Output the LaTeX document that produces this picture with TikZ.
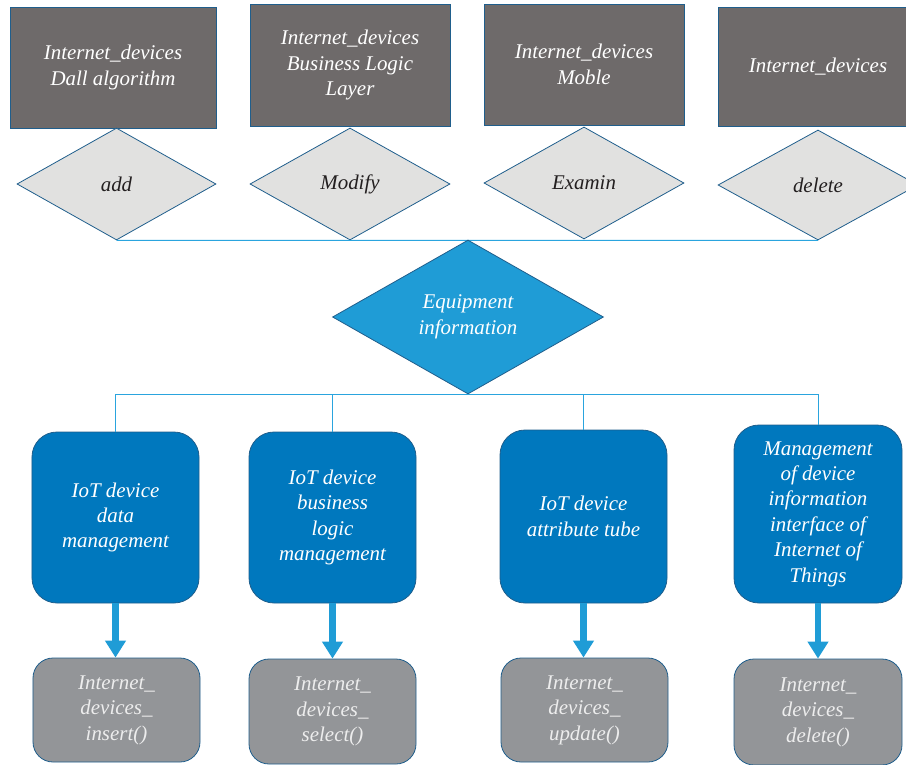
\documentclass[tikz,border=0pt]{standalone}
\usepackage{fontspec}
\setmainfont{Liberation Serif}
\usetikzlibrary{shapes.geometric,arrows.meta}
\definecolor{slate}{HTML}{6E6A6A}
\definecolor{edgeblue}{HTML}{1F5E8C}
\definecolor{paleg}{HTML}{E1E1E0}
\definecolor{linkblue}{HTML}{2AA4DE}
\definecolor{hubblue}{HTML}{1F9CD6}
\definecolor{boxblue}{HTML}{0078BE}
\definecolor{midgray}{HTML}{939598}
\definecolor{inkdark}{HTML}{231F20}
\begin{document}
\begin{tikzpicture}[x=1bp,y=-1bp,
  every node/.style={font=\itshape\fontsize{21}{25.5}\selectfont, align=center, inner sep=0pt},
  layerbox/.style={rectangle, draw=edgeblue, fill=slate, line width=0.8bp, text=white},
  opdiamond/.style={diamond, draw=edgeblue, fill=paleg, line width=0.8bp, text=inkdark},
  hubdiamond/.style={diamond, draw=edgeblue, fill=hubblue, line width=0.8bp, text=white},
  modbox/.style={rectangle, rounded corners=25bp, draw=edgeblue, fill=boxblue, line width=0.8bp, text=white, minimum width=167bp},
  funcbox/.style={rectangle, rounded corners=20bp, draw=edgeblue, fill=midgray, line width=0.8bp, text=white!93!black, minimum width=167bp},
  link/.style={draw=linkblue, line width=1bp},
  flow/.style={draw=hubblue, line width=6.5bp, -{Triangle[width=20bp,length=17bp]}}
]
\useasboundingbox (0,0) rectangle (906,765);

% layers along the top
\node[layerbox, minimum width=206bp, minimum height=121bp] (r1) at (113,67.5) {Internet\_devices\\Dall algorithm};
\node[layerbox, minimum width=200bp, minimum height=122bp] (r2) at (350,65) {Internet\_devices\\Business Logic\\Layer};
\node[layerbox, minimum width=200bp, minimum height=121bp] (r3) at (584,64.5) {Internet\_devices\\Moble};
\node[layerbox, minimum width=190bp, minimum height=119bp] (r4) at (813,66.5) {\hspace*{10bp}Internet\_devices};

% operations
\node[opdiamond, minimum width=199bp, minimum height=112bp] (d1) at (116.5,184) {add};
\node[opdiamond, minimum width=200bp, minimum height=112bp] (d2) at (350,184) {Modify};
\node[opdiamond, minimum width=200bp, minimum height=112bp] (d3) at (584,183) {Examin};
\node[opdiamond, minimum width=200bp, minimum height=110bp] (d4) at (818,185) {delete};

\draw[link] (d1.south) -- (d4.south);

% central hub
\node[hubdiamond, minimum width=271bp, minimum height=154bp] (eq) at (468,317) {Equipment\\information};

% management modules
\node[modbox, minimum height=171bp] (b1) at (115.5,517.5) {IoT device\\data\\management};
\node[modbox, minimum height=171bp] (b2) at (332.5,517.5) {IoT device\\business\\logic\\management};
\node[modbox, minimum height=173bp] (b3) at (583.5,516.5) {IoT device\\attribute tube};
\node[modbox, minimum width=168bp, minimum height=178bp] (b4) at (818,514) {Management\\of device\\information\\interface of\\Internet of\\Things};

\draw[link] (b1.north) -- (b1.north |- eq.south) -- (b4.north |- eq.south) -- (b4.north);
\draw[link] (b2.north) -- (b2.north |- eq.south);
\draw[link] (b3.north) -- (b3.north |- eq.south);

% database functions
\node[funcbox, minimum height=104bp] (g1) at (116.5,710) {Internet\_\\devices\_\\insert()};
\node[funcbox, minimum height=105bp] (g2) at (332.5,711.5) {Internet\_\\devices\_\\select()};
\node[funcbox, minimum height=104bp] (g3) at (584.5,710) {Internet\_\\devices\_\\update()};
\node[funcbox, minimum width=168bp, minimum height=106bp] (g4) at (818,712) {Internet\_\\devices\_\\delete()};

\draw[flow] (b1.south) -- (g1.north -| b1.south);
\draw[flow] (b2.south) -- (g2.north -| b2.south);
\draw[flow] (b3.south) -- (g3.north -| b3.south);
\draw[flow] (b4.south) -- (g4.north -| b4.south);
\end{tikzpicture}
\end{document}
